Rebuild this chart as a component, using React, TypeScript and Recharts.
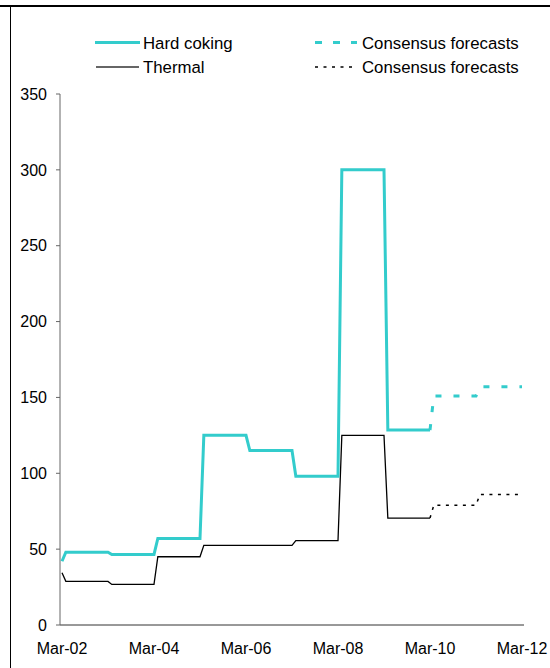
import { LineChart, Line, XAxis, YAxis } from 'recharts';

// Japanese fiscal-year contract prices (US$/t), FY01 applies only to Mar-02
const fiscalYears = ['FY01', 'FY02', 'FY03', 'FY04', 'FY05', 'FY06', 'FY07', 'FY08', 'FY09'];
const hardCoking = [42, 48, 46.5, 57, 125, 115, 98, 300, 128.5];
const thermal = [34.5, 28.75, 26.75, 45, 52.5, 52.5, 55.65, 125, 70.5];

const forecastYears = ['FY10', 'FY11'];
const hardCokingForecast = [151, 157];
const thermalForecast = [79, 86];

const monthNames = ['Jan', 'Feb', 'Mar', 'Apr', 'May', 'Jun', 'Jul', 'Aug', 'Sep', 'Oct', 'Nov', 'Dec'];
const yTicks = [0, 50, 100, 150, 200, 250, 300, 350];

const CYAN = '#33CCCC';
const FONT = '"Liberation Sans", Arial, sans-serif';

// monthly table Mar-02 .. Mar-12, each month carries its fiscal year's price
const data = [] as any[];
for (let i = 0; i <= 120; i++) {
  const m = (2 + i) % 12;
  const year = 2002 + Math.floor((2 + i) / 12);
  const fy = year - (m < 3 ? 1 : 0) - 2001;
  const row: any = { month: `${monthNames[m]}-${String(year).slice(2)}` };
  if (fy < fiscalYears.length) {
    row.hardCoking = hardCoking[fy];
    row.thermal = thermal[fy];
  }
  if (fy >= fiscalYears.length && fy - fiscalYears.length < forecastYears.length) {
    row.hardCokingForecast = hardCokingForecast[fy - fiscalYears.length];
    row.thermalForecast = thermalForecast[fy - fiscalYears.length];
  }
  // forecast lines start from the last actual month
  if (fy === fiscalYears.length - 1 && m === 2) {
    row.hardCokingForecast = row.hardCoking;
    row.thermalForecast = row.thermal;
  }
  data.push(row);
}

function LegendBox() {
  const text = { fontFamily: FONT, fontSize: 16.8, fill: '#000' };
  return (
    <svg width={550} height={90} style={{ position: 'absolute', left: 0, top: 0 }}>
      <line x1={95} x2={140} y1={42.5} y2={42.5} stroke={CYAN} strokeWidth={3} />
      <text x={143} y={48.5} {...text}>Hard coking</text>
      <line x1={96} x2={139} y1={67} y2={67} stroke="#333" strokeWidth={1.3} />
      <text x={143} y={73} {...text}>Thermal</text>
      <line x1={315} x2={357} y1={42.5} y2={42.5} stroke={CYAN} strokeWidth={3} strokeDasharray="7 11" />
      <text x={362} y={48.5} {...text}>Consensus forecasts</text>
      <line x1={315} x2={356} y1={67} y2={67} stroke="#000" strokeWidth={1.5} strokeDasharray="3 5.5" />
      <text x={362} y={73} {...text}>Consensus forecasts</text>
    </svg>
  );
}

export default function App() {
  return (
    <div style={{ position: 'absolute', left: 0, top: 0, width: 550, height: 668, overflow: 'hidden', background: '#fff' }}>
      <div style={{ position: 'absolute', left: 0, top: 5, width: 550, height: 2, background: '#000' }} />
      <div style={{ position: 'absolute', left: 10, top: 5, width: 1, height: 663, background: '#000' }} />
      <LegendBox />
      <div style={{ position: 'absolute', left: 0, top: 0 }}>
        <LineChart width={550} height={668} data={data} margin={{ top: 94, right: 26, bottom: 13, left: 0 }}>
          <XAxis
            dataKey="month"
            interval={23}
            height={30}
            tickLine={false}
            tickSize={0}
            tickMargin={18}
            padding={{ left: 2, right: 2 }}
            stroke="#333"
            tick={{ fill: '#000', fontSize: 16, fontFamily: FONT }}
          />
          <YAxis
            domain={[0, 350]}
            ticks={yTicks}
            width={60}
            tickSize={4}
            tickMargin={9}
            stroke="#666"
            tick={{ fill: '#000', fontSize: 16, fontFamily: FONT }}
          />
          <Line dataKey="thermal" stroke="#000" strokeWidth={1.3} dot={false} isAnimationActive={false} />
          <Line dataKey="thermalForecast" stroke="#000" strokeWidth={1.5} strokeDasharray="3 5.5" dot={false} isAnimationActive={false} />
          <Line dataKey="hardCoking" stroke={CYAN} strokeWidth={3} dot={false} isAnimationActive={false} />
          <Line dataKey="hardCokingForecast" stroke={CYAN} strokeWidth={3} strokeDasharray="6 12" dot={false} isAnimationActive={false} />
        </LineChart>
      </div>
    </div>
  );
}
